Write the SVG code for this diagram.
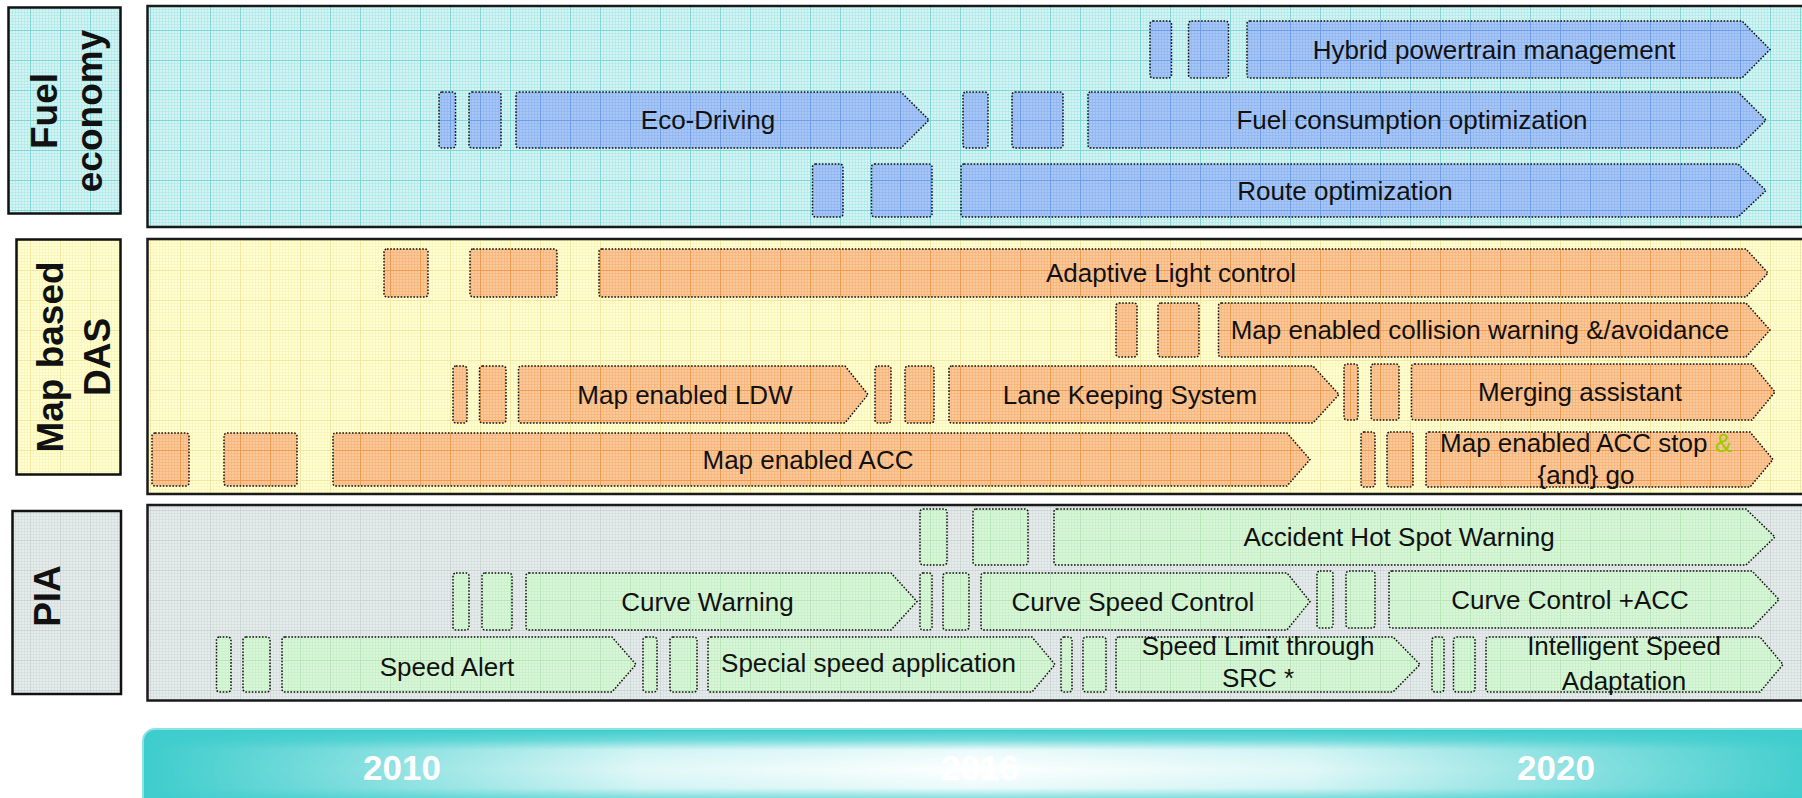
<svg xmlns="http://www.w3.org/2000/svg" width="1802" height="798" viewBox="0 0 1802 798">
<defs>
<style>
.pnl{stroke:#1a1a1a;stroke-width:2.5}
.lbl{stroke:#111;stroke-width:2.5}
.bar{stroke:#111;stroke-width:1.5;stroke-dasharray:1.6 1.6}
.fb{fill:url(#gBlue)}
.ob{fill:url(#gOrange)}
.gb{fill:url(#gGreen)}
.t{font-family:"Liberation Sans",Arial,sans-serif;font-size:26px;fill:#111;text-anchor:middle}
.h{font-family:"Liberation Sans",Arial,sans-serif;font-size:37px;font-weight:bold;fill:#111;text-anchor:middle}
.y{font-family:"Liberation Sans",Arial,sans-serif;font-size:35px;font-weight:bold;fill:#fff;text-anchor:middle}
</style>
<pattern id="mCyan" width="3" height="3" patternUnits="userSpaceOnUse"><rect width="3" height="3" fill="#d4f4f4"/><path d="M0 0.5H3M0.5 0V3" stroke="#a8e6e6" stroke-opacity="0.6"/></pattern>
<pattern id="gCyan" width="30" height="30" patternUnits="userSpaceOnUse"><rect width="30" height="30" fill="url(#mCyan)"/><path d="M0 0.5H30M0.5 0V30" stroke="#80d6d6"/></pattern>
<pattern id="mYellow" width="3" height="3" patternUnits="userSpaceOnUse"><rect width="3" height="3" fill="#ffffd2"/><path d="M0 0.5H3M0.5 0V3" stroke="#f6f0b0" stroke-opacity="0.5"/></pattern>
<pattern id="gYellow" width="30" height="30" patternUnits="userSpaceOnUse"><rect width="30" height="30" fill="url(#mYellow)"/><path d="M0 0.5H30M0.5 0V30" stroke="#f2e8a4"/></pattern>
<pattern id="mGray" width="3" height="3" patternUnits="userSpaceOnUse"><rect width="3" height="3" fill="#e6ebeb"/><path d="M0 0.5H3M0.5 0V3" stroke="#d2dada" stroke-opacity="0.6"/></pattern>
<pattern id="gGray" width="30" height="30" patternUnits="userSpaceOnUse"><rect width="30" height="30" fill="url(#mGray)"/><path d="M0 0.5H30M0.5 0V30" stroke="#ccd4d4"/></pattern>
<pattern id="mBlue" width="3" height="3" patternUnits="userSpaceOnUse"><rect width="3" height="3" fill="#a6c6f6"/><path d="M0 0.5H3M0.5 0V3" stroke="#8cb2ee" stroke-opacity="0.6"/></pattern>
<pattern id="gBlue" width="30" height="30" patternUnits="userSpaceOnUse"><rect width="30" height="30" fill="url(#mBlue)"/><path d="M0 0.5H30M0.5 0V30" stroke="#6f9de8"/></pattern>
<pattern id="mOrange" width="3" height="3" patternUnits="userSpaceOnUse"><rect width="3" height="3" fill="#fbc898"/><path d="M0 0.5H3M0.5 0V3" stroke="#f6b078" stroke-opacity="0.6"/></pattern>
<pattern id="gOrange" width="30" height="30" patternUnits="userSpaceOnUse"><rect width="30" height="30" fill="url(#mOrange)"/><path d="M0 0.5H30M0.5 0V30" stroke="#f09a50"/></pattern>
<pattern id="mGreen" width="3" height="3" patternUnits="userSpaceOnUse"><rect width="3" height="3" fill="#d8f6d8"/><path d="M0 0.5H3M0.5 0V3" stroke="#c6eec6" stroke-opacity="0.6"/></pattern>
<pattern id="gGreen" width="30" height="30" patternUnits="userSpaceOnUse"><rect width="30" height="30" fill="url(#mGreen)"/><path d="M0 0.5H30M0.5 0V30" stroke="#b8e6b8"/></pattern>
<linearGradient id="hGlow" gradientUnits="userSpaceOnUse" x1="143" y1="0" x2="1807" y2="0">
<stop offset="0" stop-color="#fff" stop-opacity="0"/>
<stop offset="0.156" stop-color="#fff" stop-opacity="0.45"/>
<stop offset="0.3" stop-color="#fff" stop-opacity="0.85"/>
<stop offset="0.5" stop-color="#fff" stop-opacity="1"/>
<stop offset="0.7" stop-color="#fff" stop-opacity="0.85"/>
<stop offset="0.849" stop-color="#fff" stop-opacity="0.45"/>
<stop offset="1" stop-color="#fff" stop-opacity="0.03"/>
</linearGradient>
<linearGradient id="vMaskG" gradientUnits="userSpaceOnUse" x1="0" y1="729" x2="0" y2="811">
<stop offset="0" stop-color="#000"/>
<stop offset="0.134" stop-color="#4d4d4d"/>
<stop offset="0.256" stop-color="#e6e6e6"/>
<stop offset="0.5" stop-color="#fff"/>
<stop offset="0.72" stop-color="#e6e6e6"/>
<stop offset="0.84" stop-color="#666"/>
<stop offset="1" stop-color="#000"/>
</linearGradient>
<mask id="vMask" maskUnits="userSpaceOnUse" x="0" y="720" width="1802" height="100">
<rect x="0" y="720" width="1900" height="100" fill="url(#vMaskG)"/>
</mask>
</defs>
<rect width="1802" height="798" fill="#fff"/>

<!-- Fuel economy -->
<g id="fuel-label">
<rect class="lbl" x="8.5" y="7.5" width="112" height="206" fill="url(#gCyan)"/>
<text class="h" transform="translate(57 111) rotate(-90)">Fuel</text>
<text class="h" transform="translate(102 111) rotate(-90)">economy</text>
</g>
<g id="fuel-panel">
<rect class="pnl" x="147.5" y="6" width="1700" height="221" fill="url(#gCyan)"/>
</g>
<g id="hybrid-powertrain">
<rect class="bar fb" x="1150" y="21" width="21.5" height="57" rx="3"/>
<rect class="bar fb" x="1188.5" y="21" width="40" height="57" rx="3"/>
<path class="bar fb" d="M1250,21H1742L1770,49.5L1742,78H1250Q1247,78 1247,75V24Q1247,21 1250,21Z"/>
<text class="t" x="1494" y="59">Hybrid powertrain management</text>
</g>
<g id="eco-driving">
<rect class="bar fb" x="439" y="92" width="16.5" height="56" rx="3"/>
<rect class="bar fb" x="469" y="92" width="32" height="56" rx="3"/>
<path class="bar fb" d="M519,92H901L929,120L901,148H519Q516,148 516,145V95Q516,92 519,92Z"/>
<text class="t" x="708" y="129">Eco-Driving</text>
</g>
<g id="fuel-consumption">
<rect class="bar fb" x="963" y="92" width="25" height="56" rx="3"/>
<rect class="bar fb" x="1012" y="92" width="51" height="56" rx="3"/>
<path class="bar fb" d="M1091,92H1738L1766,120L1738,148H1091Q1088,148 1088,145V95Q1088,92 1091,92Z"/>
<text class="t" x="1412" y="129">Fuel consumption optimization</text>
</g>
<g id="route-optimization">
<rect class="bar fb" x="812.5" y="164" width="30.5" height="53" rx="3"/>
<rect class="bar fb" x="871.5" y="164" width="60.5" height="53" rx="3"/>
<path class="bar fb" d="M964,164H1738L1766,190.5L1738,217H964Q961,217 961,214V167Q961,164 964,164Z"/>
<text class="t" x="1345" y="200">Route optimization</text>
</g>

<!-- Map based DAS -->
<g id="das-label">
<rect class="lbl" x="16.5" y="239.5" width="104" height="235" fill="url(#gYellow)"/>
<text class="h" transform="translate(63 357) rotate(-90)">Map based</text>
<text class="h" transform="translate(110 357) rotate(-90)">DAS</text>
</g>
<g id="das-panel">
<rect class="pnl" x="147.5" y="239" width="1700" height="255" fill="url(#gYellow)"/>
</g>
<g id="adaptive-light">
<rect class="bar ob" x="384" y="249" width="44" height="48" rx="3"/>
<rect class="bar ob" x="470" y="249" width="87" height="48" rx="3"/>
<path class="bar ob" d="M602,249H1746L1768,273L1746,297H602Q599,297 599,294V252Q599,249 602,249Z"/>
<text class="t" x="1171" y="282">Adaptive Light control</text>
</g>
<g id="collision-warning">
<rect class="bar ob" x="1116" y="303" width="21" height="54" rx="3"/>
<rect class="bar ob" x="1158" y="303" width="41" height="54" rx="3"/>
<path class="bar ob" d="M1221.5,303H1746L1770,330L1746,357H1221.5Q1218.5,357 1218.5,354V306Q1218.5,303 1221.5,303Z"/>
<text class="t" x="1480" y="339">Map enabled collision warning &amp;/avoidance</text>
</g>
<g id="map-ldw">
<rect class="bar ob" x="453" y="366" width="14" height="57" rx="3"/>
<rect class="bar ob" x="479.5" y="366" width="26.5" height="57" rx="3"/>
<path class="bar ob" d="M521.5,366H845L868,394.5L845,423H521.5Q518.5,423 518.5,420V369Q518.5,366 521.5,366Z"/>
<text class="t" x="685" y="404">Map enabled LDW</text>
</g>
<g id="lane-keeping">
<rect class="bar ob" x="875" y="366" width="16" height="57" rx="3"/>
<rect class="bar ob" x="905" y="366" width="29" height="57" rx="3"/>
<path class="bar ob" d="M952,366H1313L1339,394.5L1313,423H952Q949,423 949,420V369Q949,366 952,366Z"/>
<text class="t" x="1130" y="404">Lane Keeping System</text>
</g>
<g id="merging-assistant">
<rect class="bar ob" x="1344" y="364" width="14" height="56" rx="3"/>
<rect class="bar ob" x="1371" y="364" width="28" height="56" rx="3"/>
<path class="bar ob" d="M1414.5,364H1752L1775,392L1752,420H1414.5Q1411.5,420 1411.5,417V367Q1411.5,364 1414.5,364Z"/>
<text class="t" x="1580" y="401">Merging assistant</text>
</g>
<g id="map-acc">
<rect class="bar ob" x="152" y="433" width="37" height="53" rx="3"/>
<rect class="bar ob" x="224" y="433" width="73" height="53" rx="3"/>
<path class="bar ob" d="M336,433H1287L1310,459.5L1287,486H336Q333,486 333,483V436Q333,433 336,433Z"/>
<text class="t" x="808" y="469">Map enabled ACC</text>
</g>
<g id="acc-stop-go">
<rect class="bar ob" x="1361" y="432" width="14" height="55" rx="3"/>
<rect class="bar ob" x="1387" y="432" width="26" height="55" rx="3"/>
<path class="bar ob" d="M1429,432H1750L1773,459.5L1750,487H1429Q1426,487 1426,484V435Q1426,432 1429,432Z"/>
<text class="t" x="1586" y="452">Map enabled ACC stop <tspan fill="#99cc00">&amp;</tspan></text>
<text class="t" x="1586" y="484">{and} go</text>
</g>

<!-- PIA -->
<g id="pia-label">
<rect class="lbl" x="12.5" y="511" width="108.5" height="183" fill="url(#gGray)"/>
<text class="h" transform="translate(60 596) rotate(-90)">PIA</text>
</g>
<g id="pia-panel">
<rect class="pnl" x="147.5" y="505" width="1700" height="195.5" fill="url(#gGray)"/>
</g>
<g id="accident-hot-spot">
<rect class="bar gb" x="920" y="509" width="27" height="56" rx="3"/>
<rect class="bar gb" x="973" y="509" width="55" height="56" rx="3"/>
<path class="bar gb" d="M1057,509H1746L1775,537L1746,565H1057Q1054,565 1054,562V512Q1054,509 1057,509Z"/>
<text class="t" x="1399" y="546">Accident Hot Spot Warning</text>
</g>
<g id="curve-warning">
<rect class="bar gb" x="453" y="573" width="16" height="57" rx="3"/>
<rect class="bar gb" x="482" y="573" width="30" height="57" rx="3"/>
<path class="bar gb" d="M529,573H891L917,601.5L891,630H529Q526,630 526,627V576Q526,573 529,573Z"/>
<text class="t" x="707.5" y="611">Curve Warning</text>
</g>
<g id="curve-speed-control">
<rect class="bar gb" x="920" y="573" width="12" height="57" rx="3"/>
<rect class="bar gb" x="943" y="573" width="26" height="57" rx="3"/>
<path class="bar gb" d="M984,573H1287L1310,601.5L1287,630H984Q981,630 981,627V576Q981,573 984,573Z"/>
<text class="t" x="1133" y="611">Curve Speed Control</text>
</g>
<g id="curve-control-acc">
<rect class="bar gb" x="1317" y="571" width="16" height="57" rx="3"/>
<rect class="bar gb" x="1346" y="571" width="29" height="57" rx="3"/>
<path class="bar gb" d="M1392,571H1752L1779,599.5L1752,628H1392Q1389,628 1389,625V574Q1389,571 1392,571Z"/>
<text class="t" x="1570" y="609">Curve Control +ACC</text>
</g>
<g id="speed-alert">
<rect class="bar gb" x="216.5" y="637" width="14.5" height="55" rx="3"/>
<rect class="bar gb" x="243" y="637" width="27" height="55" rx="3"/>
<path class="bar gb" d="M285,637H612L636,664.5L612,692H285Q282,692 282,689V640Q282,637 285,637Z"/>
<text class="t" x="447" y="676">Speed Alert</text>
</g>
<g id="special-speed">
<rect class="bar gb" x="643" y="637" width="14" height="55" rx="3"/>
<rect class="bar gb" x="670" y="637" width="27" height="55" rx="3"/>
<path class="bar gb" d="M711,637H1032L1055,664.5L1032,692H711Q708,692 708,689V640Q708,637 711,637Z"/>
<text class="t" x="868.5" y="672">Special speed application</text>
</g>
<g id="speed-limit-src">
<rect class="bar gb" x="1061" y="637" width="11" height="55" rx="3"/>
<rect class="bar gb" x="1083" y="637" width="23" height="55" rx="3"/>
<path class="bar gb" d="M1119,637H1393L1420,664.5L1393,692H1119Q1116,692 1116,689V640Q1116,637 1119,637Z"/>
<text class="t" x="1258" y="655">Speed Limit through</text>
<text class="t" x="1258" y="687">SRC *</text>
</g>
<g id="intelligent-speed">
<rect class="bar gb" x="1432" y="637" width="12" height="55" rx="3"/>
<rect class="bar gb" x="1453.5" y="637" width="21.5" height="55" rx="3"/>
<path class="bar gb" d="M1489,637H1760L1783,664.5L1760,692H1489Q1486,692 1486,689V640Q1486,637 1489,637Z"/>
<text class="t" x="1624" y="655">Intelligent Speed</text>
<text class="t" x="1624" y="690">Adaptation</text>
</g>

<!-- Timeline -->
<g id="timeline">
<rect x="143" y="729" width="1720" height="90" rx="12" fill="#3ecdcd" stroke="#8fe2e2" stroke-width="2"/>
<rect x="144" y="731" width="1718" height="88" rx="11" fill="url(#hGlow)" mask="url(#vMask)"/>
<text class="y" x="402" y="780">2010</text>
<text class="y" x="980" y="780">2016</text>
<text class="y" x="1556" y="780">2020</text>
</g>
</svg>
